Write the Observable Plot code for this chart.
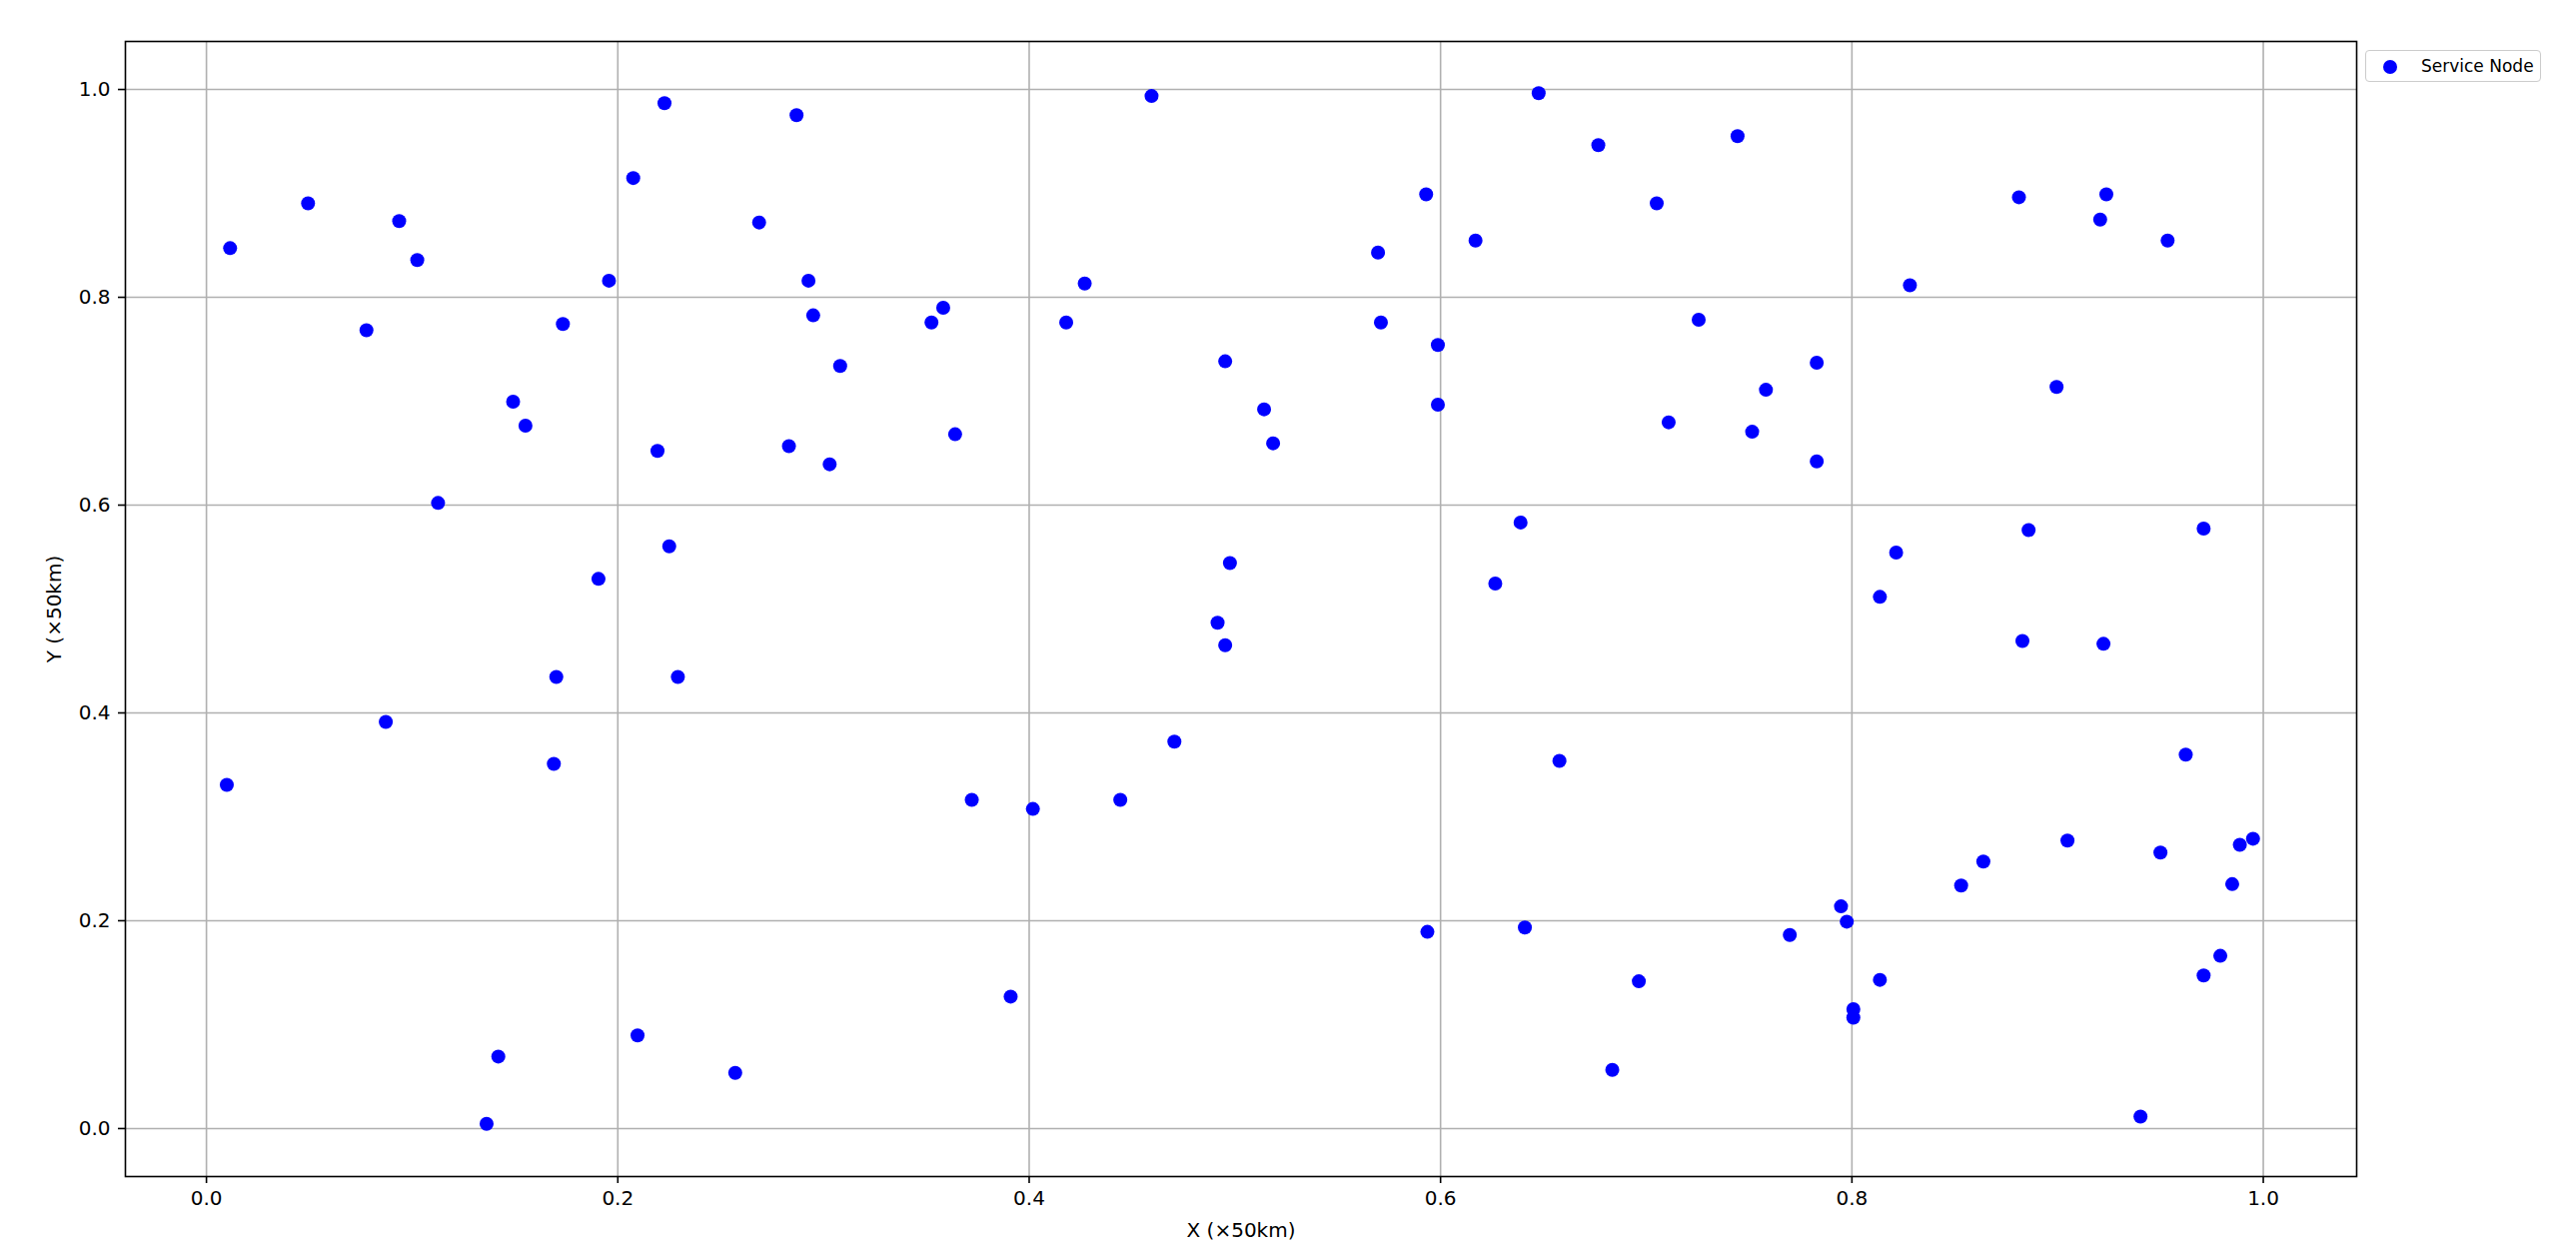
<!DOCTYPE html>
<html>
<head>
<meta charset="utf-8">
<script src="https://cdn.jsdelivr.net/npm/d3@7"></script>
<script src="https://cdn.jsdelivr.net/npm/@observablehq/plot@0.6"></script>
<style>
  html, body { margin: 0; padding: 0; background: #ffffff; }
  #wrap { position: relative; width: 2578px; height: 1252px; }
  #legend {
    position: absolute; left: 2367px; top: 50px; width: 174px; height: 30px;
    border: 1.5px solid #cccccc; border-radius: 4px; background: #ffffff;
    font-family: "DejaVu Sans", sans-serif; font-size: 17px; color: #000;
  }
  #legend .dot {
    position: absolute; left: 17px; top: 9px; width: 14px; height: 14px;
    border-radius: 50%; background: #0000ff;
  }
  #legend .lbl { position: absolute; left: 55px; top: 4px; line-height: 22px; white-space: nowrap; }
</style>
</head>
<body>
<div id="wrap"></div>
<script>
// ---- data ----
const seriesName = "Service Node";
const xLabel = "X (×50km)";
const yLabel = "Y (×50km)";
const xTicks = [0.0, 0.2, 0.4, 0.6, 0.8, 1.0];
const yTicks = [0.0, 0.2, 0.4, 0.6, 0.8, 1.0];

const xs = [
  0.2227, 0.2869, 0.2075, 0.0494, 0.0937, 0.2687, 0.0115, 0.1025, 0.1957, 0.2927,
  0.2950, 0.0778, 0.1733, 0.3081, 0.1491, 0.1551, 0.2193, 0.2832, 0.3030, 0.1126,
  0.2250, 0.1906,
  0.4595, 0.6477, 0.6767, 0.5930, 0.6170, 0.5696, 0.4270, 0.3582, 0.3525, 0.4180,
  0.5710, 0.5987, 0.4953, 0.5142, 0.5987, 0.3640, 0.5186, 0.6389, 0.4976, 0.6266,
  0.7444, 0.7051, 0.8812, 0.9237, 0.9207, 0.9535, 0.8282, 0.7255, 0.7829, 0.7582,
  0.8995, 0.7109, 0.7515, 0.7829, 0.8859, 0.9710, 0.8215, 0.8136,
  0.1701, 0.2292, 0.0872, 0.1689, 0.0099, 0.2096, 0.1419, 0.2571, 0.1362,
  0.4916, 0.4953, 0.4706, 0.6578, 0.3721, 0.4443, 0.4018, 0.5936, 0.6410, 0.3910,
  0.6835,
  0.8829, 0.9223, 0.9623, 0.9048, 0.9950, 0.9886, 0.9500, 0.8639, 0.8531, 0.9849,
  0.7947, 0.7975, 0.7698, 0.9791, 0.9710, 0.6964, 0.8136, 0.8007, 0.8007, 0.9403
];
const ys = [
  0.9868, 0.9753, 0.9148, 0.8904, 0.8734, 0.8720, 0.8473, 0.8358, 0.8160, 0.8160,
  0.7826, 0.7683, 0.7743, 0.7339, 0.6995, 0.6765, 0.6522, 0.6567, 0.6393, 0.6021,
  0.5603, 0.5290,
  0.9937, 0.9965, 0.9464, 0.8991, 0.8546, 0.8431, 0.8132, 0.7899, 0.7757, 0.7757,
  0.7757, 0.7541, 0.7384, 0.6922, 0.6967, 0.6682, 0.6595, 0.5833, 0.5443, 0.5245,
  0.9551, 0.8904, 0.8963, 0.8991, 0.8748, 0.8546, 0.8115, 0.7784, 0.7370, 0.7110,
  0.7137, 0.6797, 0.6706, 0.6421, 0.5760, 0.5774, 0.5544, 0.5117,
  0.4346, 0.4346, 0.3913, 0.3510, 0.3307, 0.0896, 0.0693, 0.0535, 0.0045,
  0.4868, 0.4651, 0.3724, 0.3538, 0.3164, 0.3164, 0.3076, 0.1893, 0.1935, 0.1270,
  0.0565,
  0.4693, 0.4665, 0.3598, 0.2772, 0.2789, 0.2730, 0.2656, 0.2569, 0.2338, 0.2352,
  0.2138, 0.1991, 0.1862, 0.1662, 0.1473, 0.1417, 0.1431, 0.1148, 0.1067, 0.0115
];

const points = xs.map((x, i) => ({x, y: ys[i], series: seriesName}));

const gridStyle = {stroke: "#b0b0b0", strokeOpacity: 1, strokeWidth: 1.6};
const fmt = d3.format(".1f");

const chart = Plot.plot({
  width: 2578,
  height: 1252,
  marginLeft: 125,
  marginRight: 220,
  marginTop: 41,
  marginBottom: 75,
  style: {fontFamily: "'DejaVu Sans', sans-serif", fontSize: "20px", color: "#000", background: "#fff", overflow: "visible"},
  x: {domain: [-0.0394, 1.0454]},
  y: {domain: [-0.0462, 1.0462]},
  marks: [
    Plot.gridX(xTicks, gridStyle),
    Plot.gridY(yTicks, gridStyle),
    Plot.dot(points, {x: "x", y: "y", r: 7, fill: "#0000ff", stroke: "none"}),
    Plot.frame({stroke: "#000", strokeWidth: 1.6}),
    Plot.axisX(xTicks, {
      tickFormat: fmt, tickSize: 7, tickPadding: 7, strokeWidth: 1.6, fontSize: 20,
      label: xLabel, labelAnchor: "center", labelArrow: "none", labelOffset: 60
    }),
    Plot.axisY(yTicks, {
      tickFormat: fmt, tickSize: 7, tickPadding: 8, strokeWidth: 1.6, fontSize: 20,
      label: yLabel, labelAnchor: "center", labelArrow: "none", labelOffset: 79
    })
  ]
});

const wrap = document.getElementById("wrap");
wrap.appendChild(chart);

const legend = document.createElement("div");
legend.id = "legend";
legend.innerHTML = `<span class="dot"></span><span class="lbl"></span>`;
legend.querySelector(".lbl").textContent = seriesName;
wrap.appendChild(legend);
</script>
</body>
</html>
